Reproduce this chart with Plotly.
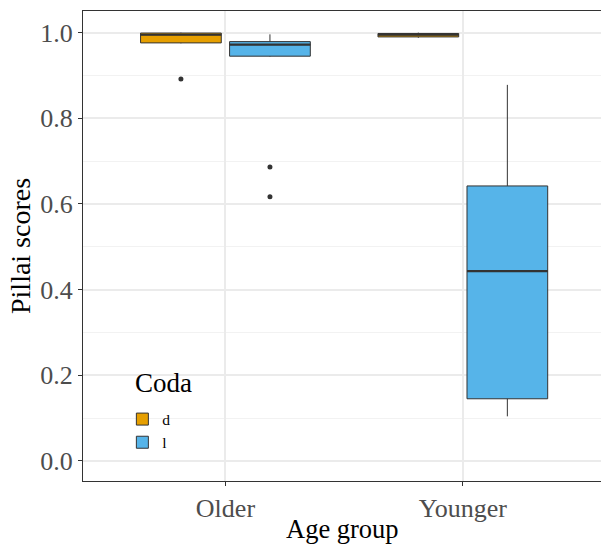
import plotly.graph_objects as go

# ---- data ----
groups = ["Older", "Younger"]
codas = ["d", "l"]
colors = {"d": "#E69F00", "l": "#56B4E9"}

q1 = {"d": [0.976, 0.990], "l": [0.945, 0.145]}
median = {"d": [0.995, 0.995], "l": [0.972, 0.443]}
q3 = {"d": [0.999, 0.998], "l": [0.979, 0.642]}
lowerfence = {"d": [0.975, 0.988], "l": [0.944, 0.104]}
upperfence = {"d": [1.000, 1.000], "l": [0.996, 0.878]}

outlier_group = {"d": ["Older"], "l": ["Older", "Older"]}
outlier_value = {"d": [0.892], "l": [0.686, 0.617]}

# ---- layout helpers ----
dodge = {"d": -0.1875, "l": 0.1875}
box_w = 0.34
gpos = {g: i for i, g in enumerate(groups)}
FONT = "Liberation Serif"
LINE = "#333333"

fig = go.Figure()
for c in codas:
    xs = [gpos[g] + dodge[c] for g in groups]
    fig.add_trace(go.Box(
        name=c, x=xs, q1=q1[c], median=median[c], q3=q3[c],
        lowerfence=lowerfence[c], upperfence=upperfence[c],
        width=box_w, fillcolor=colors[c], whiskerwidth=0,
        line=dict(color=LINE, width=1), boxpoints=False,
        showlegend=True, hoverinfo="skip"))
for c in codas:
    # thick median segments (ggplot fatten)
    mx, my = [], []
    for i, g in enumerate(groups):
        p = gpos[g] + dodge[c]
        mx += [p - box_w / 2, p + box_w / 2, None]
        my += [median[c][i], median[c][i], None]
    fig.add_trace(go.Scatter(x=mx, y=my, mode="lines",
                             line=dict(color=LINE, width=2.2),
                             showlegend=False, hoverinfo="skip"))
    fig.add_trace(go.Scatter(
        x=[gpos[g] + dodge[c] for g in outlier_group[c]], y=outlier_value[c],
        mode="markers", marker=dict(color=LINE, size=5),
        showlegend=False, hoverinfo="skip"))

fig.update_layout(
    width=601, height=544,
    margin=dict(l=83, r=0, t=11, b=63),
    paper_bgcolor="white", plot_bgcolor="white",
    font=dict(family=FONT, color="black"),
    showlegend=True,
    legend=dict(
        font=dict(size=15.5, family=FONT, color="black"),
        x=0.076, y=0.167, xanchor="left", yanchor="top",
        bgcolor="rgba(0,0,0,0)", tracegroupgap=0, itemwidth=30),
    xaxis=dict(
        range=[-0.6, 1.582], tickvals=[gpos[g] for g in groups], ticktext=groups,
        showgrid=True, gridcolor="#EBEBEB", gridwidth=1.8, zeroline=False,
        showline=True, linecolor=LINE, linewidth=1, mirror=True,
        ticks="outside", ticklen=4, tickcolor=LINE, tickwidth=1,
        tickfont=dict(size=26, family=FONT, color="#4D4D4D")),
    yaxis=dict(
        range=[-0.047, 1.0505], tickvals=[0, 0.2, 0.4, 0.6, 0.8, 1.0],
        ticktext=["0.0", "0.2", "0.4", "0.6", "0.8", "1.0"],
        showgrid=True, gridcolor="#EBEBEB", gridwidth=1.8, zeroline=False,
        minor=dict(tickvals=[0.1, 0.3, 0.5, 0.7, 0.9], showgrid=True,
                   gridcolor="#F2F2F2", gridwidth=1, ticks=""),
        showline=True, linecolor=LINE, linewidth=1, mirror=False,
        ticks="outside", ticklen=4, tickcolor=LINE, tickwidth=1,
        tickfont=dict(size=26, family=FONT, color="#4D4D4D")),
    annotations=[
        dict(text="Age group", xref="paper", yref="paper", x=0.5, y=0,
             yshift=-48, xanchor="center", yanchor="middle", showarrow=False,
             font=dict(size=26.5, family=FONT, color="black")),
        dict(text="Pillai scores", xref="paper", yref="paper", x=0, y=0.5,
             xshift=-63, xanchor="center", yanchor="middle", textangle=-90,
             showarrow=False, font=dict(size=28, family=FONT, color="black")),
        dict(text="Coda", xref="paper", yref="paper", x=0.0965, y=0.2085,
             xanchor="left", yanchor="middle", showarrow=False,
             font=dict(size=27, family=FONT, color="black")),
    ],
)
fig.write_html("out.html", config={"displayModeBar": False},
               post_script="document.body.style.margin='0';")
